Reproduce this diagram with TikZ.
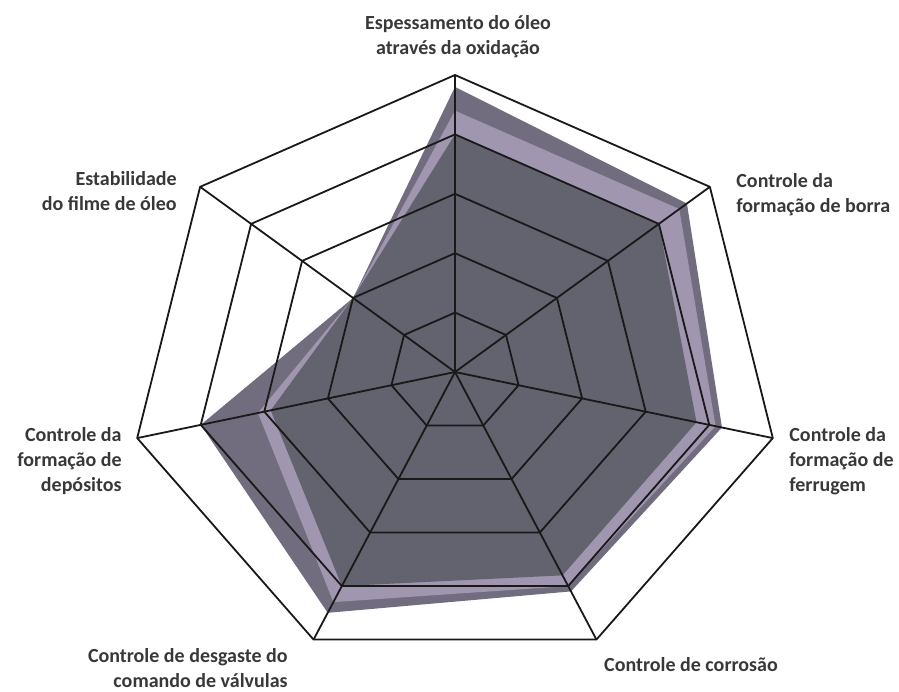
\documentclass[tikz,border=0pt]{standalone}
\usepackage{fontspec}
\setmainfont{Carlito}
\begin{document}
\begin{tikzpicture}[x=0.5pt,y=-0.5pt]
		\tikzstyle{Grid} = [black!90, line width=0.9pt, line join=round]
		\tikzstyle{Label} = [font=\bfseries\fontsize{10}{12.5}\selectfont, inner sep=0pt, text=black!78]
		\definecolor{SerieA}{RGB}{114,109,126}
		\definecolor{SerieB}{RGB}{160,150,176}
		\definecolor{SerieC}{RGB}{98,99,110}
		
		\useasboundingbox (0,0) rectangle (899,691);
		\begin{scope}[shift={(455,372)}, x=163pt, y=148.5pt]
		\coordinate (O) at (0,0);
		\foreach \k in {0,...,6} \coordinate (ax\k) at ({90-\k*360/7}:1);
		% the three series
		\fill[SerieA] (90:0.96) \foreach \v [count=\k] in {0.91,0.84,0.82,0.90,0.80,0.40} { -- ({90-\k*360/7}:\v) } -- cycle;
		\fill[SerieB] (90:0.88) \foreach \v [count=\k] in {0.88,0.82,0.80,0.86,0.62,0.40} { -- ({90-\k*360/7}:\v) } -- cycle;
		\fill[SerieC] (90:0.80) \foreach \v [count=\k] in {0.80,0.76,0.76,0.80,0.58,0.40} { -- ({90-\k*360/7}:\v) } -- cycle;
		% grid
		\foreach \r in {0.2,0.4,0.6,0.8,1}
			\draw[Grid] (90:\r) \foreach \k in {1,...,6} { -- ({90-\k*360/7}:\r) } -- cycle;
		\foreach \k in {0,...,6} \draw[Grid] (O) -- (ax\k);
		\end{scope}
		
		\node (oxidacao) [Label, align=center] at (458,37) {Espessamento do óleo\\através da oxidação};
		\node (borra) [Label, align=left, anchor=west] at (736,195) {Controle da\\formação de borra};
		\node (ferrugem) [Label, align=left, anchor=west] at (789,461) {Controle da\\formação de\\ferrugem};
		\node (corrosao) [Label] at (691,665) {Controle de corrosão};
		\node (valvulas) [Label, align=right, anchor=east] at (288,668) {Controle de desgaste do\\comando de válvulas};
		\node (depositos) [Label, align=right, anchor=east] at (122,461) {Controle da\\formação de\\depósitos};
		\node (filme) [Label, align=right, anchor=east] at (177,191) {Estabilidade\\do filme de óleo};
\end{tikzpicture}
\end{document}
